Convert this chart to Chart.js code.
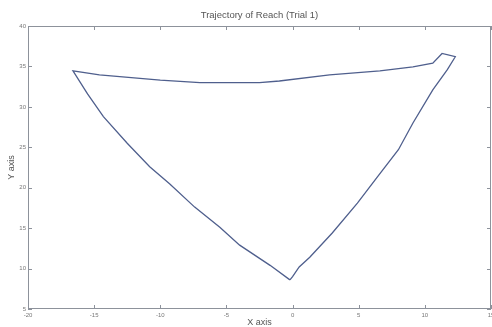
<!DOCTYPE html>
<html>
<head>
<meta charset="utf-8">
<script src="https://cdn.jsdelivr.net/npm/chart.js@4"></script>
<style>
  html, body { margin: 0; padding: 0; background: #fff; }
  canvas { display: block; }
</style>
</head>
<body>
<canvas id="reach" width="492" height="327"></canvas>
<script>
// hand path (bottom -> right -> top -> left -> bottom)
const xs = [-0.2, 0.0, 0.5, 1.3, 3.0, 4.9, 6.4, 8.0, 9.1, 10.6, 11.7, 12.3, 11.3, 10.6, 9.1, 6.6, 2.8, -1.0, -2.5, -7.0, -10.0, -14.6, -16.6,
            -15.5, -14.3, -12.5, -10.8, -9.3, -7.4, -5.5, -4.0, -1.7, -0.2];
const ys = [8.6, 9.0, 10.2, 11.4, 14.4, 18.1, 21.3, 24.7, 28.0, 32.1, 34.6, 36.2, 36.6, 35.4, 34.95, 34.45, 33.95, 33.2, 33.0, 33.0, 33.3, 33.95, 34.45,
            31.6, 28.8, 25.5, 22.6, 20.5, 17.6, 15.1, 12.9, 10.4, 8.6];
const xTicks = [-20, -15, -10, -5, 0, 5, 10, 15];
const yTicks = [5, 10, 15, 20, 25, 30, 35, 40];

const pts = xs.map((x, i) => ({ x: x, y: ys[i] }));
const axisGray = '#8d929b';
const textGray = '#555';

// matlab style box with inward ticks
const boxTicks = {
  id: 'boxTicks',
  afterDraw(chart) {
    const { ctx, chartArea: a, scales } = chart;
    ctx.save();
    ctx.strokeStyle = axisGray;
    ctx.lineWidth = 1;
    ctx.strokeRect(a.left + 0.5, a.top + 0.5, a.right - a.left - 1, a.bottom - a.top - 1);
    ctx.beginPath();
    xTicks.forEach(v => {
      const px = Math.round(scales.x.getPixelForValue(v)) + 0.5;
      ctx.moveTo(px, a.bottom); ctx.lineTo(px, a.bottom - 4);
      ctx.moveTo(px, a.top); ctx.lineTo(px, a.top + 4);
    });
    yTicks.forEach(v => {
      const py = Math.round(scales.y.getPixelForValue(v)) + 0.5;
      ctx.moveTo(a.left, py); ctx.lineTo(a.left + 4, py);
      ctx.moveTo(a.right, py); ctx.lineTo(a.right - 4, py);
    });
    ctx.stroke();
    ctx.restore();
  }
};

new Chart(document.getElementById('reach'), {
  type: 'scatter',
  data: {
    datasets: [{
      data: pts,
      showLine: true,
      borderColor: '#4f5f8d',
      borderWidth: 1.3,
      pointRadius: 0,
      tension: 0
    }]
  },
  options: {
    responsive: false,
    animation: false,
    devicePixelRatio: 1,
    layout: { padding: { right: 1 } },
    plugins: {
      legend: { display: false },
      tooltip: { enabled: false },
      title: {
        display: true,
        fullSize: false,
        text: 'Trajectory of Reach (Trial 1)',
        color: textGray,
        font: { family: 'Liberation Sans, Arial, sans-serif', size: 9.5, weight: 'normal' },
        padding: { top: 10, bottom: 4.6 }
      }
    },
    scales: {
      x: {
        type: 'linear',
        min: -20, max: 15,
        afterBuildTicks: s => { s.ticks = xTicks.map(v => ({ value: v })); },
        afterFit: s => { s.height = 18; s.paddingLeft = 0; s.paddingRight = 0; },
        grid: { display: false, drawTicks: false },
        border: { display: false },
        ticks: { color: '#777', padding: 3, maxRotation: 0, font: { family: 'Liberation Sans, Arial', size: 6 } },
        title: {
          display: true, text: 'X axis', color: textGray, padding: 0,
          font: { family: 'Liberation Sans, Arial', size: 9, lineHeight: 1 }
        }
      },
      y: {
        type: 'linear',
        min: 5, max: 40,
        afterBuildTicks: s => { s.ticks = yTicks.map(v => ({ value: v })); },
        afterFit: s => { s.width = 28; s.paddingTop = 0; s.paddingBottom = 0; },
        grid: { display: false, drawTicks: false },
        border: { display: false },
        ticks: { color: '#777', padding: 2, font: { family: 'Liberation Sans, Arial', size: 6 } },
        title: {
          display: true, text: 'Y axis', color: textGray, padding: { top: 7 },
          font: { family: 'Liberation Sans, Arial', size: 9, lineHeight: 1 }
        }
      }
    }
  },
  plugins: [boxTicks]
});
</script>
</body>
</html>
